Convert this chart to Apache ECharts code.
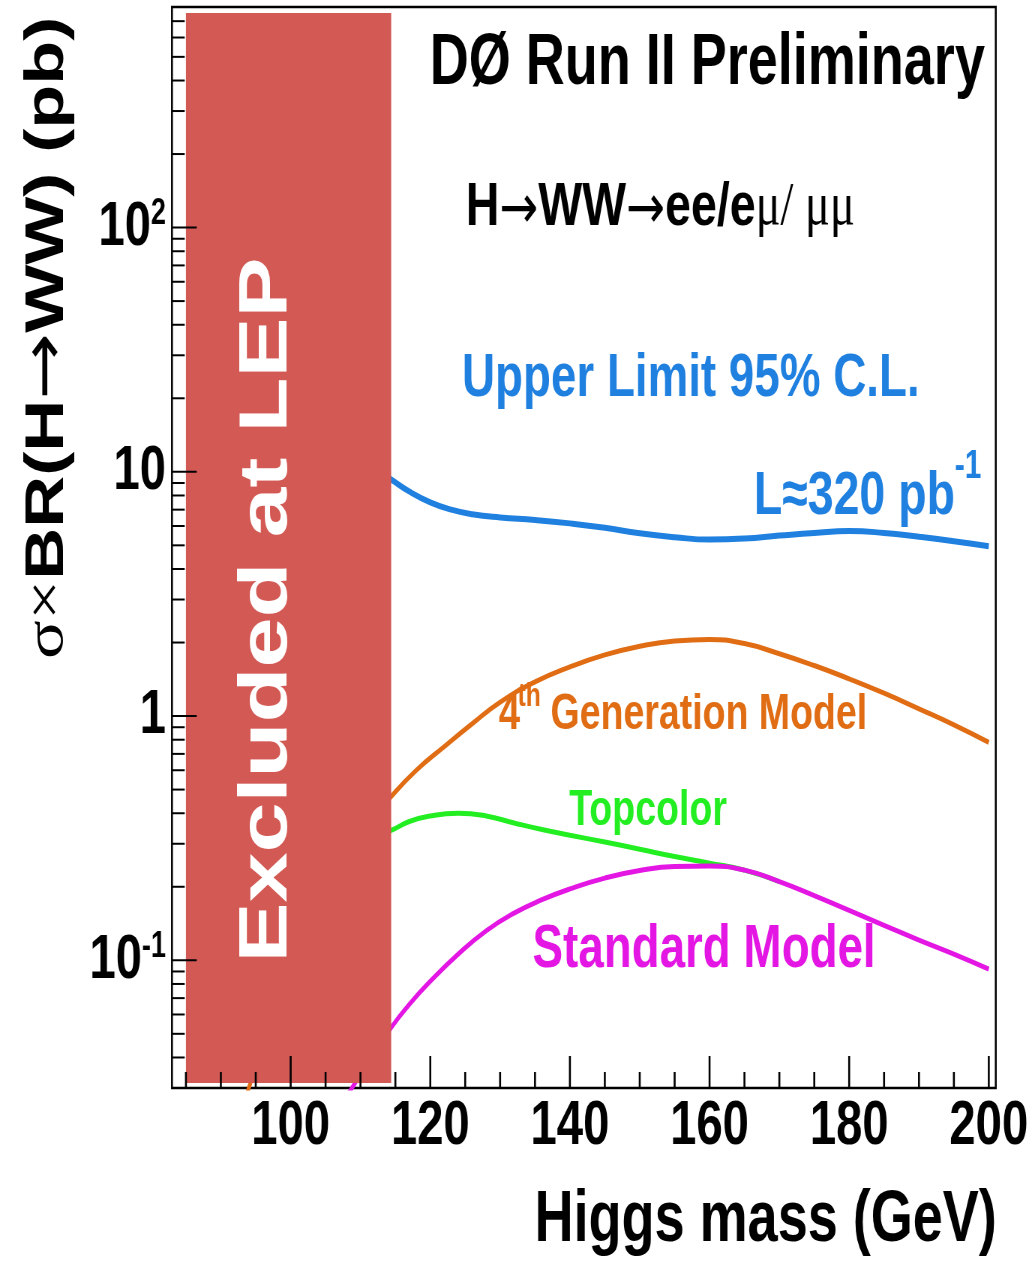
<!DOCTYPE html>
<html>
<head>
<meta charset="utf-8">
<title>H→WW limits</title>
<script src="https://cdn.jsdelivr.net/npm/echarts@6/dist/echarts.min.js"></script>
<style>
  html, body { margin: 0; padding: 0; overflow: hidden; background: #fff; }
  #chart { position: absolute; left: 0; top: 0; height: 1261px; transform-origin: 0 0; }
</style>
</head>
<body>
<div id="chart"></div>
<script>
// Higgs mass points (GeV) and sigma x BR(H->WW) values (pb) for each curve
const limitMass = [113, 114.4, 117, 120, 123, 126, 130, 135, 140, 145, 150, 155, 160, 165, 170, 175, 180, 185, 190, 195, 200];
const limitXsec = [9.9, 9.3, 8.3, 7.5, 7.0, 6.7, 6.5, 6.35, 6.15, 5.9, 5.6, 5.4, 5.28, 5.33, 5.48, 5.62, 5.72, 5.62, 5.42, 5.2, 4.96];

const gen4Mass = [92, 94, 97, 100, 104, 108, 111, 114.4, 118, 122, 126, 130, 135, 140, 145, 150, 155, 160, 165, 170, 175, 180, 185, 190, 195, 200];
const gen4Xsec = [0.020, 0.030, 0.053, 0.089, 0.161, 0.264, 0.357, 0.468, 0.60, 0.75, 0.93, 1.14, 1.38, 1.59, 1.78, 1.93, 2.03, 2.06, 1.98, 1.80, 1.61, 1.42, 1.24, 1.07, 0.92, 0.78];

const topcolorMass = [110, 114.4, 117, 120, 124, 128, 132, 136, 140, 145, 150, 155, 160, 165, 170];
const topcolorXsec = [0.30, 0.34, 0.37, 0.39, 0.40, 0.39, 0.365, 0.343, 0.325, 0.305, 0.285, 0.266, 0.250, 0.234, 0.210];

const smMass = [107, 110, 114.4, 117, 120, 124, 128, 132, 136, 140, 145, 150, 155, 160, 165, 170, 175, 180, 185, 190, 195, 200];
const smXsec = [0.025, 0.034, 0.053, 0.066, 0.082, 0.106, 0.132, 0.156, 0.177, 0.196, 0.217, 0.233, 0.242, 0.243, 0.234, 0.210, 0.184, 0.160, 0.139, 0.121, 0.106, 0.092];

// Mass range excluded by LEP (GeV)
const lepExcluded = [85, 114.4];

// Axis ranges, ticks and tick labels
const X_MIN = 83, X_MAX = 201;
const Y_MIN = 0.03, Y_MAX = 800;
const xMajorTicks = [100, 120, 140, 160, 180, 200];
const xMinorTicks = [85, 90, 95, 105, 110, 115, 125, 130, 135, 145, 150, 155, 165, 170, 175, 185, 190, 195];
const xTickLabels = ['100', '120', '140', '160', '180', '200'];
const yMajorTicks = [0.1, 1, 10, 100];
const yMinorTicks = [0.04, 0.05, 0.06, 0.07, 0.08, 0.09,
                     0.2, 0.3, 0.4, 0.5, 0.6, 0.7, 0.8, 0.9,
                     2, 3, 4, 5, 6, 7, 8, 9,
                     20, 30, 40, 50, 60, 70, 80, 90,
                     200, 300, 400, 500, 600, 700, 800];
const yTickLabels = ['{b|10}{s|-1}', '{b|1}', '{b|10}', '{b|10}{s|2}'];

// The whole figure is drawn on a wider canvas and condensed horizontally,
// which gives the narrow, tall lettering of the original plot style.
const SQUEEZE = 0.75;
const WIDTH = 1033 / SQUEEZE;
const el = document.getElementById('chart');
el.style.width = WIDTH + 'px';
el.style.transform = 'scaleX(' + SQUEEZE + ')';

const SANS = '"Liberation Sans", Arial, Helvetica, sans-serif';
const SERIF = '"Liberation Serif", "DejaVu Serif", serif';
const ARROW = '"DejaVu Sans", sans-serif';

const BLUE = '#1f80e0';
const ORANGE = '#e06c14';
const GREEN = '#22ee22';
const MAGENTA = '#e316e3';
const LEP_RED = '#d35954';

function curve(name, mass, xsec, color, width) {
  return {
    type: 'line', name: name,
    data: mass.map((m, i) => [m, xsec[i]]),
    smooth: 0.5, symbol: 'none', showSymbol: false, clip: true,
    lineStyle: { color: color, width: width },
    silent: true, z: 2
  };
}

function tickSeries(values, axis, len, lineWidth) {
  return {
    type: 'custom', silent: true, z: 6,
    data: values.map(v => axis === 'x' ? [v, Y_MIN] : [X_MIN, v]),
    renderItem: function (params, api) {
      const cs = params.coordSys;
      const p = api.coord([api.value(0), api.value(1)]);
      const shape = axis === 'x'
        ? { x1: p[0], y1: cs.y + cs.height, x2: p[0], y2: cs.y + cs.height - len }
        : { x1: cs.x, y1: p[1], x2: cs.x + len, y2: p[1] };
      return { type: 'line', shape: shape, style: { stroke: '#000', lineWidth: lineWidth } };
    }
  };
}

function label(text, x, y, size, color, align) {
  return {
    type: 'text', x: x, y: y, z: 100, silent: true,
    style: {
      text: text, fill: color, fontFamily: SANS, fontWeight: 'bold', fontSize: size,
      align: align || 'left', verticalAlign: 'middle'
    }
  };
}

const chart = echarts.init(el, null, { renderer: 'canvas' });

chart.setOption({
  animation: false,
  backgroundColor: '#fff',
  grid: {
    left: 229.3, right: 49.3, top: 7, bottom: 173,
    show: true, borderColor: '#000', borderWidth: 2.5, backgroundColor: 'transparent',
    outerBoundsMode: 'none'
  },
  xAxis: {
    type: 'value', min: X_MIN, max: X_MAX, splitNumber: 6,
    axisLine: { show: false }, axisTick: { show: false }, splitLine: { show: false },
    axisLabel: {
      customValues: xMajorTicks,
      margin: 7,
      formatter: function (v) {
        const i = xMajorTicks.indexOf(Math.round(v));
        return (i >= 0 && Math.abs(v - xMajorTicks[i]) < 1e-6) ? xTickLabels[i] : '';
      },
      fontFamily: SANS, fontWeight: 'bold', fontSize: 63, lineHeight: 63, color: '#000'
    }
  },
  yAxis: {
    type: 'log', logBase: 10, min: Y_MIN, max: Y_MAX,
    axisLine: { show: false }, axisTick: { show: false }, splitLine: { show: false },
    axisLabel: {
      margin: 8, align: 'right',
      formatter: function (v) {
        const i = yMajorTicks.findIndex(t => Math.abs(Math.log10(v) - Math.log10(t)) < 1e-6);
        return i < 0 ? '' : yTickLabels[i];
      },
      rich: {
        b: { fontFamily: SANS, fontWeight: 'bold', fontSize: 63, lineHeight: 63, padding: [10, 0, 0, 0], verticalAlign: 'bottom', color: '#000' },
        s: { fontFamily: SANS, fontWeight: 'bold', fontSize: 36, lineHeight: 36, verticalAlign: 'top', color: '#000' }
      }
    }
  },
  series: [
    curve('Upper Limit 95% C.L.', limitMass, limitXsec, BLUE, 6),
    curve('4th Generation Model', gen4Mass, gen4Xsec, ORANGE, 5),
    curve('Topcolor', topcolorMass, topcolorXsec, GREEN, 5),
    curve('Standard Model', smMass, smXsec, MAGENTA, 5),
    {
      type: 'custom', silent: true, z: 5,
      data: [lepExcluded],
      renderItem: function (params, api) {
        const cs = params.coordSys;
        const a = api.coord([api.value(0), Y_MIN]);
        const b = api.coord([api.value(1), Y_MIN]);
        return {
          type: 'rect',
          shape: { x: a[0], y: cs.y + 6, width: b[0] - a[0], height: cs.height - 11 },
          style: { fill: LEP_RED }
        };
      }
    },
    tickSeries(xMajorTicks, 'x', 32, 2.6),
    tickSeries(xMinorTicks, 'x', 16, 2.6),
    tickSeries(yMajorTicks, 'y', 33, 2),
    tickSeries(yMinorTicks, 'y', 17, 2)
  ],
  graphic: [
    label('DØ Run II Preliminary', 573, 64, 72, '#000'),
    {
      type: 'text', x: 621, y: 208, z: 100, silent: true,
      style: {
        text: '{b|H}{a|→}{b|WW}{a|→}{b|ee/e}{s|μ/ μμ}',
        fill: '#000', align: 'left', verticalAlign: 'middle',
        rich: {
          b: { fontFamily: SANS, fontWeight: 'bold', fontSize: 62, verticalAlign: 'middle' },
          a: { fontFamily: ARROW, fontSize: 62, verticalAlign: 'middle', padding: [8, 0, 0, 0] },
          s: { fontFamily: SERIF, fontSize: 62, verticalAlign: 'middle' }
        }
      }
    },
    label('Upper Limit 95% C.L.', 616, 379, 61, BLUE),
    label('L≈320 pb', 1005, 497, 62, BLUE),
    label('-1', 1273, 467, 40, BLUE),
    label('4', 665, 715, 51, ORANGE),
    label('th', 690, 697, 33, ORANGE),
    label('Generation Model', 734, 715, 50, ORANGE),
    label('Topcolor', 759, 811, 50, GREEN),
    label('Standard Model', 710, 950, 61, MAGENTA),
    label('Higgs mass (GeV)', 1329, 1221, 72, '#000', 'right'),
    {
      type: 'text', x: 64, y: 338, z: 100, silent: true, rotation: Math.PI / 2,
      style: {
        text: '{s|σ×}{b|BR(H}{a|→}{b|WW) (pb)}',
        fill: '#000', align: 'center', verticalAlign: 'middle',
        rich: {
          b: { fontFamily: SANS, fontWeight: 'bold', fontSize: 72, verticalAlign: 'middle' },
          a: { fontFamily: ARROW, fontSize: 80, verticalAlign: 'middle' },
          s: { fontFamily: SERIF, fontSize: 72, verticalAlign: 'middle' }
        }
      }
    },
    {
      type: 'text', x: 357, y: 610, z: 100, silent: true, rotation: Math.PI / 2,
      style: {
        text: 'Excluded at LEP', fill: '#fff', fontFamily: SANS, fontWeight: 'bold', fontSize: 90,
        align: 'center', verticalAlign: 'middle'
      }
    }
  ]
});
</script>
</body>
</html>
